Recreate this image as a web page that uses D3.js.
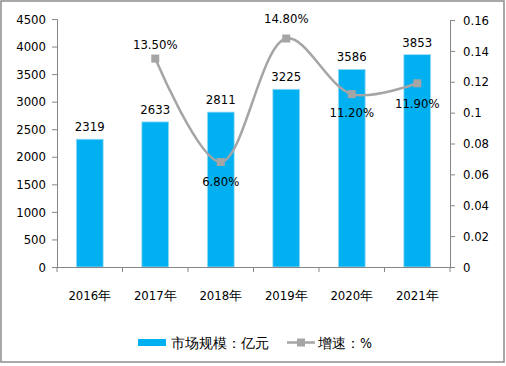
<!DOCTYPE html>
<html><head><meta charset="utf-8">
<script src="https://cdn.jsdelivr.net/npm/d3@7"></script>
<style>
html,body{margin:0;padding:0;background:#fff;}
svg text{font-family:"DejaVu Sans Condensed","Liberation Sans",sans-serif;}
</style></head>
<body><svg id="c" width="506" height="366"></svg>
<script>
const categories = ["2016年","2017年","2018年","2019年","2020年","2021年"];
const marketSize = [2319,2633,2811,3225,3586,3853];
const growth = [null,0.135,0.068,0.148,0.112,0.119];
const growthLabels = [null,"13.50%","6.80%","14.80%","11.20%","11.90%"];
const leftTicks = [0,500,1000,1500,2000,2500,3000,3500,4000,4500];
const rightTicks = [0,0.02,0.04,0.06,0.08,0.1,0.12,0.14,0.16];
const legendLabels = ["市场规模：亿元","增速：%"];

const svg = d3.select("#c");
const axisColor = "#868686";
const barColor = "#00B0F0";
const lineColor = "#A5A5A5";
const fs = 13;

svg.append("rect").attr("x",1).attr("y",1).attr("width",503).attr("height",361)
  .attr("fill","#fff").attr("stroke","#8c8c8c").attr("stroke-width",1.5);

const x0 = 57, x1 = 450, yTop = 19, yBot = 267;
const x = d3.scaleBand().domain(categories).range([x0,x1]).paddingInner(0).paddingOuter(0);
const yL = d3.scaleLinear().domain([0,4500]).range([yBot,yTop]);
const yR = d3.scaleLinear().domain([0,0.16]).range([yBot,yTop+1]);

// bars
const bw = x.bandwidth()*0.41;
svg.append("g").selectAll("rect").data(marketSize).join("rect")
  .attr("x",(d,i)=>x(categories[i])+x.bandwidth()/2-bw/2)
  .attr("y",d=>yL(d)).attr("width",bw).attr("height",d=>yBot-yL(d))
  .attr("fill",barColor).attr("stroke","#9fdcf5").attr("stroke-width",0.8);

// bar labels
svg.append("g").selectAll("text").data(marketSize).join("text")
  .attr("x",(d,i)=>x(categories[i])+x.bandwidth()/2)
  .attr("y",d=>yL(d)-8).attr("text-anchor","middle")
  .attr("font-size",fs).attr("fill","#000").text(d=>d);

// left axis
const gl = svg.append("g").attr("transform",`translate(${x0},0)`)
  .call(d3.axisLeft(yL).tickValues(leftTicks).tickSize(5).tickPadding(6).tickFormat(d3.format("d")));
// right axis
const gr = svg.append("g").attr("transform",`translate(${x1},0)`)
  .call(d3.axisRight(yR).tickValues(rightTicks).tickSize(5).tickPadding(8).tickFormat(d=>d===0?"0":String(+d.toFixed(2))));
// bottom axis
const gb = svg.append("g").attr("transform",`translate(0,${yBot})`)
  .call(d3.axisBottom(x).tickSize(0).tickPadding(24));
[gl,gr,gb].forEach(g=>{
  g.select(".domain").attr("stroke",axisColor).attr("stroke-width",1);
  g.selectAll(".tick line").attr("stroke",axisColor);
  g.selectAll("text").attr("font-size",fs).attr("fill","#000")
   .attr("font-family",'"DejaVu Sans Condensed","Liberation Sans",sans-serif');
});
gb.select(".domain").attr("d",`M${x0},0.5H${x1}`);
// bottom ticks at band boundaries
svg.append("g").selectAll("line").data(categories.concat(["end"])).join("line")
  .attr("x1",(d,i)=>x0+i*x.bandwidth()).attr("x2",(d,i)=>x0+i*x.bandwidth())
  .attr("y1",yBot).attr("y2",yBot+5).attr("stroke",axisColor);

// line
const pts = growth.map((g,i)=>g==null?null:[x(categories[i])+x.bandwidth()/2,yR(g)]).filter(p=>p);
svg.append("path").attr("d",d3.line().curve(d3.curveCatmullRom.alpha(0.5))(pts))
  .attr("fill","none").attr("stroke",lineColor).attr("stroke-width",2.5);
svg.append("g").selectAll("rect").data(pts).join("rect")
  .attr("x",d=>d[0]-4).attr("y",d=>d[1]-4).attr("width",8).attr("height",8)
  .attr("fill",lineColor);

// growth labels
const labelOff = [0,-10,24,-16,23,25];
svg.append("g").selectAll("text").data(growth).join("text")
  .filter(d=>d!=null)
  .attr("x",(d)=>x(categories[growth.indexOf(d)])+x.bandwidth()/2)
  .attr("y",(d)=>yR(d)+labelOff[growth.indexOf(d)])
  .attr("text-anchor","middle").attr("font-size",fs).attr("fill","#000")
  .text(d=>growthLabels[growth.indexOf(d)]);

// legend
const lg = svg.append("g");
lg.append("rect").attr("x",138).attr("y",339).attr("width",28).attr("height",7).attr("fill",barColor);
lg.append("text").attr("x",171).attr("y",348).attr("font-size",14).text(legendLabels[0])
  .attr("font-family",'"Noto Sans CJK SC",sans-serif');
lg.append("line").attr("x1",287).attr("x2",315).attr("y1",342.5).attr("y2",342.5).attr("stroke",lineColor).attr("stroke-width",2.5);
lg.append("rect").attr("x",297).attr("y",338.5).attr("width",8).attr("height",8).attr("fill",lineColor);
lg.append("text").attr("x",318).attr("y",348).attr("font-size",14).text(legendLabels[1])
  .attr("font-family",'"Noto Sans CJK SC",sans-serif');
</script></body></html>
